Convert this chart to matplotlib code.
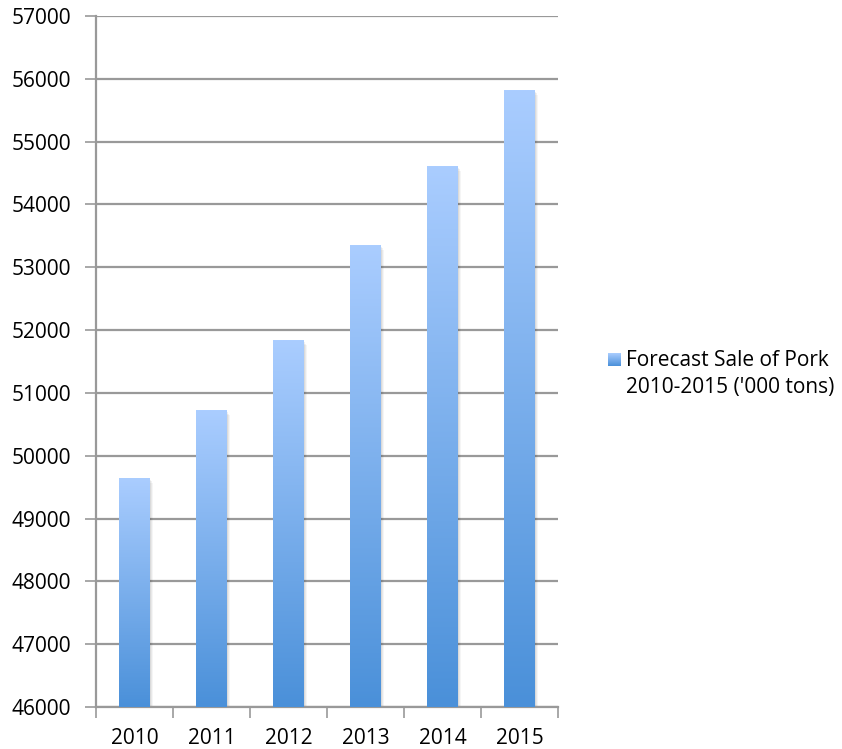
import matplotlib
matplotlib.use("Agg")
import matplotlib.pyplot as plt
import numpy as np
from matplotlib.colors import LinearSegmentedColormap
from matplotlib.patches import Rectangle

years = ["2010", "2011", "2012", "2013", "2014", "2015"]
values = [49640, 50720, 51835, 53350, 54610, 55820]
series_label_lines = ["Forecast Sale of Pork", "2010-2015 ('000 tons)"]

plt.rcParams['font.family'] = ['Open Sans', 'DejaVu Sans']

fig = plt.figure(figsize=(8.42, 7.49), dpi=100)
ax = fig.add_axes([96/842, 1 - 707/749, (558-96)/842, (707-16)/749])

ymin, ymax = 46000, 57000
cmap = LinearSegmentedColormap.from_list("g", ["#4a90d9", "#aacdff"])
grad = np.linspace(0, 1, 256).reshape(-1, 1)
bw = 0.4
for i, v in enumerate(values):
    # soft shadow
    for k, a in enumerate([0.06, 0.05, 0.04]):
        off = 0.012 * (k + 1)
        ax.add_patch(Rectangle((i - bw/2 + off, ymin), bw, v - ymin - 25 * (k + 1),
                               facecolor="#000000", alpha=a, edgecolor="none", zorder=2))
    ax.imshow(grad, cmap=cmap, origin="lower", aspect="auto",
              extent=(i - bw/2, i + bw/2, ymin, v), zorder=3)

ax.set_xlim(-0.5, len(years) - 0.5)
ax.set_ylim(ymin, ymax)

ax.set_yticks(np.arange(ymin, ymax + 1, 1000))
ax.set_yticklabels([str(t) for t in range(ymin, ymax + 1, 1000)], fontsize=15)
ax.yaxis.grid(True, color="#999999", linewidth=1.6, zorder=1)
ax.set_axisbelow(True)

ax.set_xticks(np.arange(-0.5, len(years), 1.0))
ax.set_xticklabels([])
ax.set_xticks(np.arange(len(years)), minor=True)
ax.set_xticklabels(years, minor=True, fontsize=15)
ax.tick_params(axis="x", which="minor", length=0, pad=15)
ax.tick_params(axis="x", which="major", length=8, color="#999999", width=1.2)
ax.tick_params(axis="y", length=8, color="#999999", width=1.2, pad=10)

for s in ["top", "right"]:
    ax.spines[s].set_visible(False)
for s in ["left", "bottom"]:
    ax.spines[s].set_color("#999999")
    ax.spines[s].set_linewidth(1.6)

# legend (drawn manually so the key aligns with the first line)
legend_key = np.linspace(0, 1, 64).reshape(-1, 1)
kax = fig.add_axes([608/842, 1 - 366/749, 13/842, 13/749])
kax.imshow(legend_key, cmap=cmap, origin="lower", aspect="auto", extent=(0, 1, 0, 1))
kax.set_axis_off()
fig.text(626/842, 1 - 360/749, series_label_lines[0], fontsize=15, va="center", ha="left")
fig.text(626/842, 1 - 387/749, series_label_lines[1], fontsize=15, va="center", ha="left")

fig.savefig("out.png", dpi=100)
